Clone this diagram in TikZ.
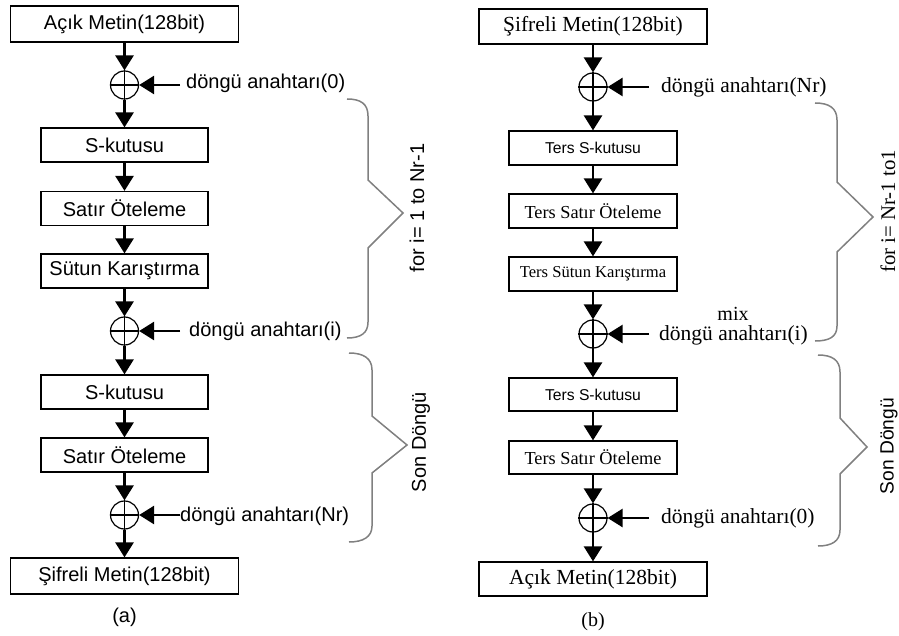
\documentclass[tikz,border=0pt]{standalone}
\usepackage{fontspec}
\setmainfont{Liberation Serif}
\setsansfont{Liberation Sans}
\usetikzlibrary{arrows.meta}
\begin{document}
\begin{tikzpicture}[x=1pt,y=-1pt,
  box/.style={draw, line width=1.2pt, minimum height=34pt, inner sep=0pt, anchor=center},
  xor/.style={draw, circle, minimum size=28pt, inner sep=0pt, line width=1.2pt},
  xcross/.style={line width=1.2pt},
  flow/.style={line width=2.6pt, -{Triangle[width=18pt,length=15pt]}},
  brace/.style={draw=gray, line width=1.5pt},
  sansL/.style={font=\fontsize{20}{24}\selectfont\sffamily},
  serifL/.style={font=\fontsize{21.5}{26}\selectfont\rmfamily},
  lab/.style={anchor=base west, inner sep=0pt}
]
\useasboundingbox (0,0) rectangle (899,636);

% ---------------- (a) ----------------
\node[box, minimum width=228pt, minimum height=36pt, sansL] (a0) at (124.5,24) {Açık Metin(128bit)};
\node[xor] (ax1) at (124.5,85) {};
\node[box, minimum width=167pt, sansL] (ab1) at (124.5,145) {S-kutusu};
\node[box, minimum width=167pt, sansL] (ab2) at (124.5,208.5) {Satır Öteleme};
\node[box, minimum width=167pt, sansL] (ab3) at (124.5,271) {Sütun Karıştırma};
\node[xor] (ax2) at (124.5,331) {};
\node[box, minimum width=167pt, sansL] (ab4) at (124.5,392) {S-kutusu};
\node[box, minimum width=167pt, sansL] (ab5) at (124.5,455) {Satır Öteleme};
\node[xor] (ax3) at (124.5,515) {};
\node[box, minimum width=228pt, minimum height=36pt, sansL] (a9) at (124.5,576) {Şifreli Metin(128bit)};
\node[sansL, inner sep=0pt] (acap) at (124.5,617) {(a)};

\foreach \x in {ax1,ax2,ax3}{
  \draw[xcross] (\x.north) -- (\x.south) (\x.west) -- (\x.east);
}

\draw[flow] (a0.south) -- (ax1.north);
\draw[flow] (ax1.south) -- (ab1.north);
\draw[flow] (ab1.south) -- (ab2.north);
\draw[flow] (ab2.south) -- (ab3.north);
\draw[flow] (ab3.south) -- (ax2.north);
\draw[flow] (ax2.south) -- (ab4.north);
\draw[flow] (ab4.south) -- (ab5.north);
\draw[flow] (ab5.south) -- (ax3.north);
\draw[flow] (ax3.south) -- (a9.north);

\coordinate (ak1) at (180,85);
\coordinate (ak2) at (180,331);
\coordinate (ak3) at (180,515);
\draw[flow] (ak1) -- (ax1.east);
\draw[flow] (ak2) -- (ax2.east);
\draw[flow] (ak3) -- (ax3.east);
\node[sansL, lab] (al1) at (186,89) {döngü anahtarı(0)};
\node[sansL, lab] (al2) at (189,336) {döngü anahtarı(i)};
\node[sansL, lab] (al3) at (180,521) {döngü anahtarı(Nr)};

\draw[brace] (347,99) .. controls (361,99) and (368,104) .. (368,116) -- (368,180) -- (403,213) -- (368,248) -- (368,322) .. controls (368,333) and (361,338) .. (347,338);
\draw[brace] (349,353) .. controls (363,353) and (372,358) .. (372,370) -- (372,416) -- (407,445) -- (372,473) -- (372,526) .. controls (372,537) and (363,542) .. (349,542);
\node[sansL, rotate=90, inner sep=0pt] (afor) at (417,208) {for i= 1 to Nr-1};
\node[sansL, rotate=90, inner sep=0pt] (ason) at (421,442) {Son Döngü};

% ---------------- (b) ----------------
\node[box, minimum width=228pt, minimum height=35pt, serifL] (b0) at (593,26.5) {Şifreli Metin(128bit)};
\node[xor] (bx1) at (593,87) {};
\node[box, minimum width=168pt, font=\fontsize{15.7}{19}\selectfont\sffamily] (bb1) at (593,148) {Ters S-kutusu};
\node[box, minimum width=168pt, font=\fontsize{18.3}{22}\selectfont\rmfamily] (bb2) at (593,211) {Ters Satır Öteleme};
\node[box, minimum width=168pt, font=\fontsize{16.6}{20}\selectfont\rmfamily] (bb3) at (593,274) {Ters Sütun Karıştırma};
\node[xor] (bx2) at (593,334) {};
\node[box, minimum width=168pt, minimum height=33pt, font=\fontsize{15.7}{19}\selectfont\sffamily] (bb4) at (593,394.5) {Ters S-kutusu};
\node[box, minimum width=168pt, minimum height=33pt, font=\fontsize{18.3}{22}\selectfont\rmfamily] (bb5) at (593,457.5) {Ters Satır Öteleme};
\node[xor] (bx3) at (593,518) {};
\node[box, minimum width=228pt, serifL] (b9) at (593,579) {Açık Metin(128bit)};
\node[font=\fontsize{20}{24}\selectfont\rmfamily, inner sep=0pt] (bcap) at (593,622) {(b)};

\foreach \x in {bx1,bx2,bx3}{
  \draw[xcross] (\x.north) -- (\x.south) (\x.west) -- (\x.east);
}

\draw[flow] (b0.south) -- (bx1.north);
\draw[flow] (bx1.south) -- (bb1.north);
\draw[flow] (bb1.south) -- (bb2.north);
\draw[flow] (bb2.south) -- (bb3.north);
\draw[flow] (bb3.south) -- (bx2.north);
\draw[flow] (bx2.south) -- (bb4.north);
\draw[flow] (bb4.south) -- (bb5.north);
\draw[flow] (bb5.south) -- (bx3.north);
\draw[flow] (bx3.south) -- (b9.north);

\coordinate (bk1) at (649,87);
\coordinate (bk2) at (649,334);
\coordinate (bk3) at (649,518);
\draw[flow] (bk1) -- (bx1.east);
\draw[flow] (bk2) -- (bx2.east);
\draw[flow] (bk3) -- (bx3.east);
\node[serifL, lab] (bl1) at (661,93) {döngü anahtarı(Nr)};
\node[serifL, lab] (bl2) at (659,340) {döngü anahtarı(i)};
\node[font=\fontsize{20}{24}\selectfont\rmfamily, anchor=base, inner sep=0pt] (bmix) at (733,320) {mix};
\node[serifL, lab] (bl3) at (661,523) {döngü anahtarı(0)};

\draw[brace] (815,103) .. controls (829,103) and (837,108) .. (837,120) -- (837,182) -- (873,217) -- (837,252) -- (837,326) .. controls (837,337) and (829,341) .. (815,341);
\draw[brace] (818,355) .. controls (832,355) and (840,360) .. (840,372) -- (840,418) -- (867,447) -- (840,474) -- (840,530) .. controls (840,541) and (832,546) .. (818,546);
\node[font=\fontsize{20.8}{25}\selectfont\rmfamily, rotate=90, inner sep=0pt] (bfor) at (888,211.5) {for i= Nr-1 to1};
\node[font=\fontsize{19.2}{23}\selectfont\sffamily, rotate=90, inner sep=0pt] (bson) at (889,446) {Son Döngü};
\end{tikzpicture}
\end{document}
